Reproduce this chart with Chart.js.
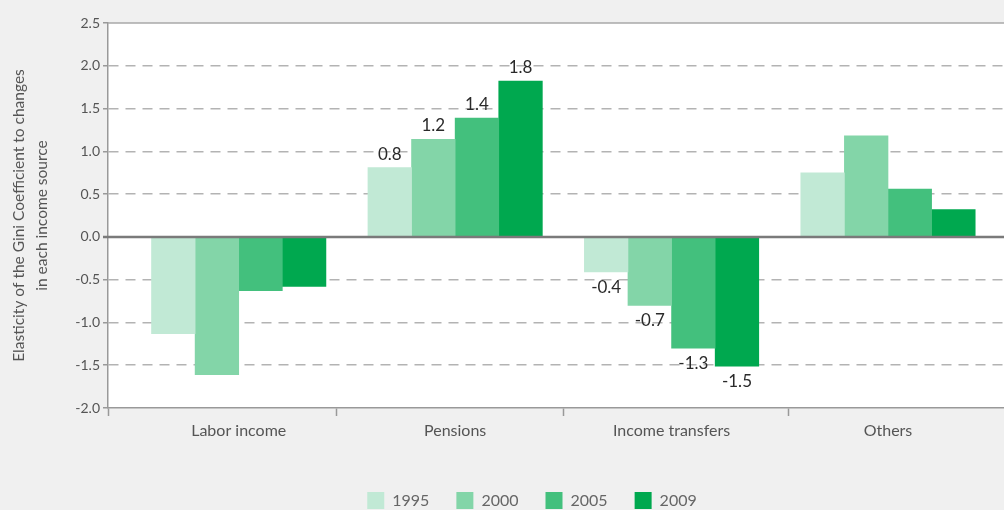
<!DOCTYPE html>
<html>
<head>
<meta charset="utf-8">
<script src="https://cdn.jsdelivr.net/npm/chart.js@4.4.1/dist/chart.umd.min.js"></script>
<style>
  html, body { margin: 0; padding: 0; background: #f0f0f0; }
  canvas { display: block; }
</style>
</head>
<body>
<canvas id="myChart" width="1004" height="510"></canvas>
<script>
const ctx = document.getElementById('myChart')

// data
const categories = ['Labor income', 'Pensions', 'Income transfers', 'Others']
const years = ['1995', '2000', '2005', '2009']
const values1995 = [-1.13, 0.81, -0.41, 0.75]
const values2000 = [-1.61, 1.14, -0.80, 1.18]
const values2005 = [-0.63, 1.39, -1.30, 0.56]
const values2009 = [-0.58, 1.82, -1.51, 0.32]
// printed value labels (only on two groups)
const labels1995 = [null, '0.8', '-0.4', null]
const labels2000 = [null, '1.2', '-0.7', null]
const labels2005 = [null, '1.4', '-1.3', null]
const labels2009 = [null, '1.8', '-1.5', null]
const yTicks = [-2.0, -1.5, -1.0, -0.5, 0.0, 0.5, 1.0, 1.5, 2.0, 2.5]
const yTitle = ['Elasticity of the Gini Coefficient to changes', 'in each income source']

const colors = ['#c1e9d5', '#83d5a8', '#43c07d', '#00a84f']
const series = [values1995, values2000, values2005, values2009]
const seriesLabels = [labels1995, labels2000, labels2005, labels2009]

Chart.defaults.font.family = 'Lato, "Open Sans", sans-serif'

const datasets = years.map((y, i) => ({
  label: y,
  data: series[i].map((v, j) => ({ x: j, y: v })),
  valueLabels: seriesLabels[i],
  backgroundColor: colors[i],
  borderWidth: 0
}))

const plotBg = {
  id: 'plotBg',
  beforeDraw(chart) {
    const a = chart.chartArea
    const c = chart.ctx
    c.save()
    c.fillStyle = '#ffffff'
    c.fillRect(a.left, a.top, a.right - a.left, a.bottom - a.top)
    c.restore()
  },
  afterLayout(chart) {
    // legend sits a little right of the canvas centre
    chart.legend.left += 30
    chart.legend.right += 30
  },
  afterDatasetsDraw(chart) {
    const a = chart.chartArea
    const c = chart.ctx
    const y0 = chart.scales.y.getPixelForValue(0)
    c.save()
    c.strokeStyle = '#7a7a7a'
    c.lineWidth = 2.5
    c.beginPath()
    c.moveTo(a.left - 5, y0)
    c.lineTo(a.right, y0)
    c.stroke()
    c.strokeStyle = '#a8a8a8'
    c.lineWidth = 1.5
    c.beginPath()
    c.moveTo(a.left, a.top)
    c.lineTo(a.right, a.top)
    c.stroke()

    // value labels
    c.font = '17px Lato, "Open Sans", sans-serif'
    c.fillStyle = '#2a2a2a'
    c.textAlign = 'center'
    chart.data.datasets.forEach((ds, i) => {
      const meta = chart.getDatasetMeta(i)
      meta.data.forEach((bar, j) => {
        const txt = ds.valueLabels[j]
        if (!txt) return
        if (ds.data[j].y >= 0) {
          c.textBaseline = 'bottom'
          c.fillText(txt, bar.x, bar.y - 5)
        } else {
          c.textBaseline = 'top'
          c.fillText(txt, bar.x, bar.y + 7)
        }
      })
    })
    c.restore()
  }
}

new Chart(ctx, {
  type: 'bar',
  data: { datasets: datasets },
  plugins: [plotBg],
  options: {
    responsive: false,
    animation: false,
    devicePixelRatio: 1,
    layout: { padding: { top: 23, right: 0, bottom: -9, left: 0 } },
    barThickness: 43.6,
    plugins: {
      tooltip: { enabled: false },
      legend: {
        position: 'bottom',
        labels: {
          boxWidth: 17,
          boxHeight: 17,
          padding: 27,
          color: '#666',
          font: { size: 16 }
        }
      }
    },
    scales: {
      x: {
        type: 'linear',
        min: -0.604,
        max: 3.536,
        offset: false,
        afterFit(scale) { scale.height = 57 },
        afterBuildTicks(scale) {
          scale.ticks = [-0.604, 0, 0.45, 1, 1.5, 2, 2.54, 3].map(v => ({ value: v }))
        },
        ticks: {
          autoSkip: false,
          maxRotation: 0,
          padding: 5,
          color: '#555',
          font: { size: 16 },
          callback: v => Number.isInteger(v) ? categories[v] : ''
        },
        grid: {
          offset: false,
          drawOnChartArea: false,
          tickLength: 8,
          tickWidth: 1.5,
          tickColor: c => (c.tick && Number.isInteger(c.tick.value)) ? 'rgba(0,0,0,0)' : '#999'
        },
        border: { color: '#999', width: 1.5 }
      },
      y: {
        min: -2,
        max: 2.5,
        afterFit(scale) { scale.width = 108 },
        afterBuildTicks(scale) {
          scale.ticks = yTicks.map(v => ({ value: v }))
        },
        ticks: {
          padding: 3,
          color: '#555',
          font: { size: 14 },
          callback: v => v.toFixed(1)
        },
        grid: {
          color: c => (c.tick && [0, 2.5, -2].includes(c.tick.value)) ? 'rgba(0,0,0,0)' : '#b3b3b3',
          lineWidth: 1.5,
          tickLength: 5,
          tickWidth: 1.5,
          tickColor: '#999'
        },
        border: { color: '#999', width: 1.5, dash: [10, 7] },
        title: {
          display: true,
          text: yTitle,
          color: '#555',
          font: { size: 15.5, lineHeight: 1.5 },
          padding: { top: 7, bottom: 0 }
        }
      }
    }
  }
})
</script>
</body>
</html>
